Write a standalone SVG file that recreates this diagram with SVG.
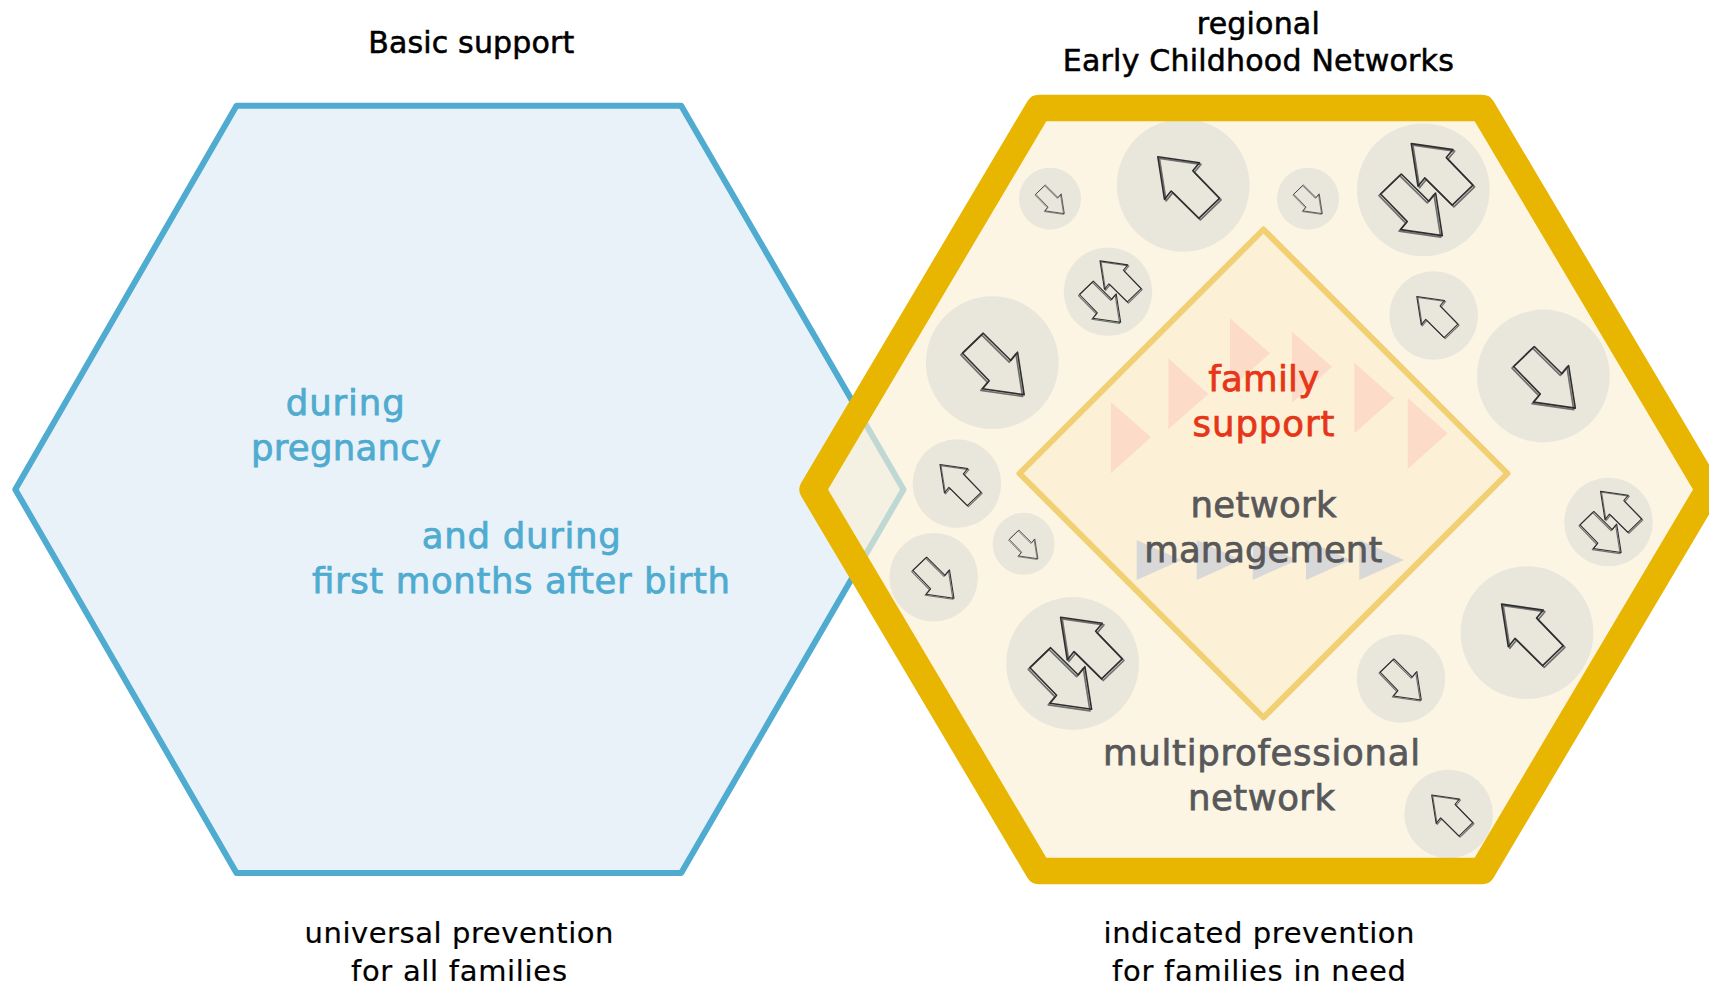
<svg xmlns="http://www.w3.org/2000/svg" xmlns:xlink="http://www.w3.org/1999/xlink" width="1709" height="986" viewBox="0 0 1709 986">
<style>
text{font-family:"DejaVu Sans","Liberation Sans",sans-serif;text-anchor:middle}
.k{fill:#000;stroke:#000;stroke-width:.55;font-size:30px}
.n{fill:#000;stroke:#000;stroke-width:.2;font-size:29px}
.b{fill:#4fabd0;stroke:#4fabd0;stroke-width:.75;font-size:35.5px}
.g{fill:#58585a;stroke:#58585a;stroke-width:.75;font-size:35.5px}
.r{fill:#e63517;stroke:#e63517;stroke-width:.75;font-size:35.5px}
.f{fill:#fcdcc8}
.m{fill:#d8d8d8}
.c{fill:#e9e7dc}
.a1{fill:none;stroke:#707070;stroke-width:1.7;stroke-linejoin:round}
.a2{fill:none;stroke:#2e2e2e;stroke-width:1.6;stroke-linejoin:round}
</style>
<defs>
<g id="up"><path class="a1" transform="translate(1.6,1.6)" d="M-25.4-28.6L16.3-22.6L9.6-14.6L36.3 13L15.6 33L-12 5.7L-18.7 14Z"/><path class="a2" d="M-25.4-28.6L16.3-22.6L9.6-14.6L36.3 13L15.6 33L-12 5.7L-18.7 14Z"/></g>
<g id="down"><path class="a1" transform="translate(-1.6,1.6)" d="M31.9 32.1L-9.8 26.1L-3.1 18.1L-29.8-9.5L-9.1-29.5L18.5-2.2L25.2-10.5Z"/><path class="a2" d="M31.9 32.1L-9.8 26.1L-3.1 18.1L-29.8-9.5L-9.1-29.5L18.5-2.2L25.2-10.5Z"/></g>
<g id="dbl"><use xlink:href="#up" href="#up" x="13.4" y="-17.6"/><use xlink:href="#down" href="#down" x="-12.9" y="13.7"/></g>
</defs>
<g id="basic-hexagon"><polygon points="15.3,489.4 236.5,105.7 681.2,105.7 903.5,489.4 681.2,873 236.5,873" fill="#e9f2f8" stroke="#4fabd0" stroke-width="6" stroke-linejoin="round"/></g>
<g id="network-hexagon-fill"><polygon points="812.6,489.5 1038.8,108 1482.2,108 1708.4,489.5 1482.2,871 1038.8,871" fill="#fbf0d6" fill-opacity="0.66"/></g>
<g id="professionals">
<g id="p1"><circle class="c" cx="1183.2" cy="185.3" r="66.4"/><use xlink:href="#up" href="#up" transform="translate(1183.2,185.3)"/></g>
<g id="p2"><circle class="c" cx="1423.3" cy="189.8" r="66.4"/><use xlink:href="#dbl" href="#dbl" transform="translate(1423.3,189.8)"/></g>
<g id="p3"><circle class="c" cx="1050" cy="198.7" r="31"/><use xlink:href="#down" href="#down" transform="translate(1049.5,198.7) scale(.465)"/></g>
<g id="p4"><circle class="c" cx="1308" cy="198.7" r="31"/><use xlink:href="#down" href="#down" transform="translate(1307.5,198.7) scale(.465)"/></g>
<g id="p5"><circle class="c" cx="1108" cy="291.7" r="44.3"/><use xlink:href="#dbl" href="#dbl" transform="translate(1108,291.7) scale(.667)"/></g>
<g id="p6"><circle class="c" cx="1433.7" cy="315.5" r="44.3"/><use xlink:href="#up" href="#up" transform="translate(1433.7,315.5) scale(.667)"/></g>
<g id="p7"><circle class="c" cx="992.3" cy="362.7" r="66.4"/><use xlink:href="#down" href="#down" transform="translate(992.3,362.7)"/></g>
<g id="p8"><circle class="c" cx="1543.4" cy="376" r="66.4"/><use xlink:href="#down" href="#down" transform="translate(1543.4,376)"/></g>
<g id="p9"><circle class="c" cx="956.9" cy="483.6" r="44.3"/><use xlink:href="#up" href="#up" transform="translate(956.9,483.6) scale(.667)"/></g>
<g id="p10"><circle class="c" cx="933.7" cy="577.3" r="44.3"/><use xlink:href="#down" href="#down" transform="translate(932.7,576.8) scale(.667)"/></g>
<g id="p11"><circle class="c" cx="1023.6" cy="543.8" r="31"/><use xlink:href="#down" href="#down" transform="translate(1023.1,543.8) scale(.465)"/></g>
<g id="p12"><circle class="c" cx="1072.6" cy="663.5" r="66.4"/><use xlink:href="#dbl" href="#dbl" transform="translate(1072.6,663.5)"/></g>
<g id="p13"><circle class="c" cx="1608.5" cy="522" r="44.3"/><use xlink:href="#dbl" href="#dbl" transform="translate(1608.5,522) scale(.667)"/></g>
<g id="p14"><circle class="c" cx="1527" cy="632.7" r="66.4"/><use xlink:href="#up" href="#up" transform="translate(1527,632.7)"/></g>
<g id="p15"><circle class="c" cx="1401" cy="678.5" r="44.3"/><use xlink:href="#down" href="#down" transform="translate(1400,678.5) scale(.667)"/></g>
<g id="p16"><circle class="c" cx="1448.6" cy="814" r="44.3"/><use xlink:href="#up" href="#up" transform="translate(1448.6,814) scale(.667)"/></g>
</g>
<g id="network-hexagon-border"><polygon points="812.6,489.5 1038.8,108 1482.2,108 1708.4,489.5 1482.2,871 1038.8,871" fill="none" stroke="#e8b600" stroke-width="26.5" stroke-linejoin="round"/></g>
<g id="core-diamond"><polygon points="1263.5,229.5 1507.5,473.5 1263.5,717.5 1019.5,473.5" fill="#fcf0d6" stroke="#f1d073" stroke-width="6" stroke-linejoin="round"/></g>
<g id="family-triangles">
<polygon class="f" points="1111,402.3 1151,437.3 1111,473.3"/>
<polygon class="f" points="1168.3,358.3 1208.3,394 1168.3,429.3"/>
<polygon class="f" points="1230,318.3 1270,353.3 1230,389"/>
<polygon class="f" points="1292,331.7 1332,366.7 1292,402.7"/>
<polygon class="f" points="1354.3,362.7 1394.3,398 1354.3,433.3"/>
<polygon class="f" points="1407.7,398 1447.7,433.3 1407.7,469"/>
</g>
<g id="management-triangles">
<polygon class="m" points="1136.7,540 1181.4,560 1136.7,580"/>
<polygon class="m" points="1196.7,540 1241.4,560 1196.7,580"/>
<polygon class="m" points="1252.7,540 1297.4,560 1252.7,580"/>
<polygon class="m" points="1306,540 1350.7,560 1306,580"/>
<polygon class="m" points="1359.3,540 1404,560 1359.3,580"/>
</g>
<g id="labels">
<text class="k" x="471.2" y="52.5" textLength="206">Basic support</text>
<text class="k" x="1258.3" y="34" textLength="123">regional</text>
<text class="k" x="1258.3" y="71" textLength="391">Early Childhood Networks</text>
<text class="b" x="345.3" y="415.2" textLength="119">during</text>
<text class="b" x="346" y="460.2" textLength="190">pregnancy</text>
<text class="b" x="521.3" y="548" textLength="199">and during</text>
<text class="b" x="521" y="593.2" textLength="418">first months after birth</text>
<text class="n" x="459" y="943" textLength="309">universal prevention</text>
<text class="n" x="459" y="981" textLength="216">for all families</text>
<text class="n" x="1259" y="943" textLength="311">indicated prevention</text>
<text class="n" x="1259" y="981" textLength="294">for families in need</text>
<text class="r" x="1263.7" y="390.7" textLength="111">family</text>
<text class="r" x="1263.5" y="435.7" textLength="142">support</text>
<text class="g" x="1263.5" y="517" textLength="146">network</text>
<text class="g" x="1263.3" y="562" textLength="238">management</text>
<text class="g" x="1261.5" y="765" textLength="317">multiprofessional</text>
<text class="g" x="1261.5" y="810" textLength="147">network</text>
</g>
</svg>
